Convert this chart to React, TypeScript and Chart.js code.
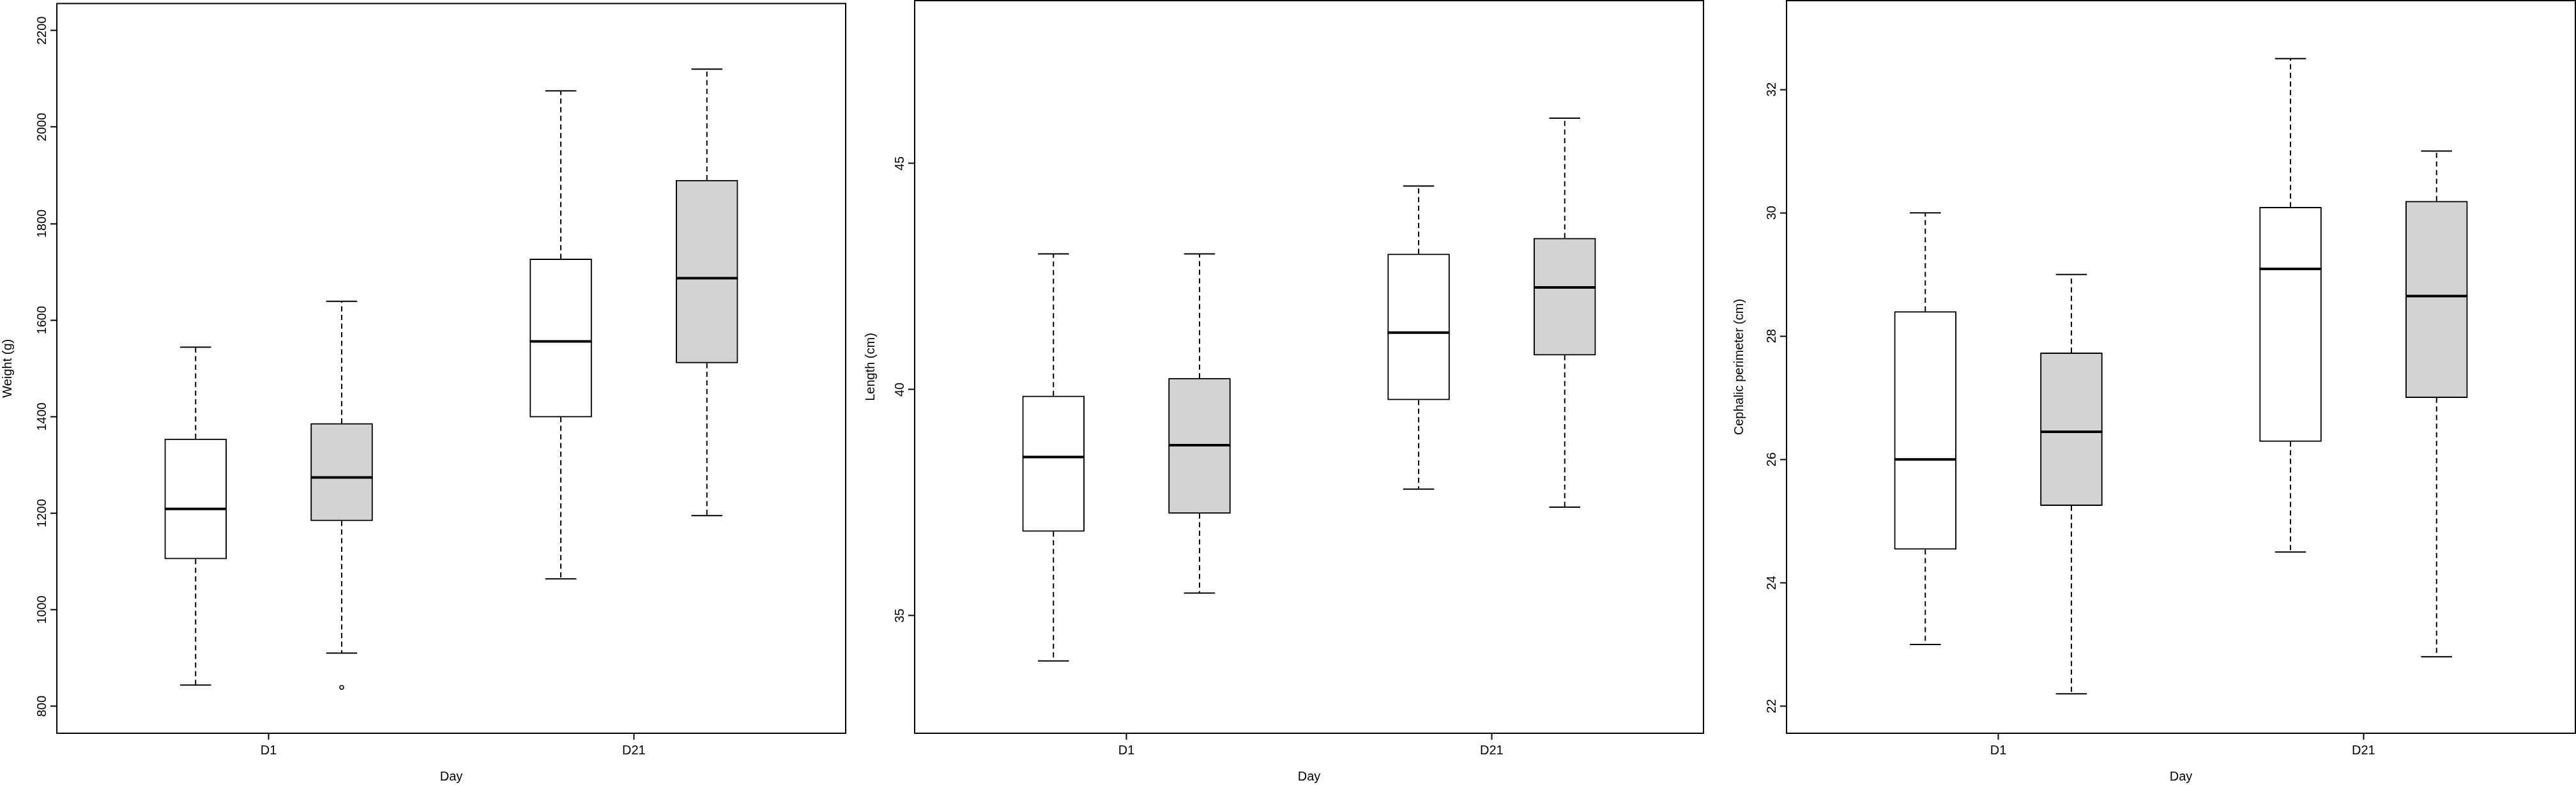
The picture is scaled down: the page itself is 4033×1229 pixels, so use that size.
import { useEffect, useRef } from 'react'
import { Chart, registerables } from 'chart.js'

Chart.register(...registerables)

Chart.defaults.font.family = '"Liberation Sans", Arial, sans-serif'
Chart.defaults.color = '#000'

const days = ['D1', 'D21']

// five-number summaries per day: [min, q1, median, q3, max]
const weightWhite = [
  [844, 1105, 1209, 1354, 1544],
  [1064, 1399, 1556, 1727, 2075],
]
const weightGrey = [
  [910, 1184, 1274, 1386, 1639],
  [1195, 1511, 1687, 1890, 2120],
]
const weightWhiteOutliers = [[], []]
const weightGreyOutliers = [[839], []]
const weightTicks = [800, 1000, 1200, 1400, 1600, 1800, 2000, 2200]
const weightLimits = [800, 2200]

const lengthWhite = [
  [34.0, 36.86, 38.51, 39.86, 43.0],
  [37.8, 39.77, 41.26, 43.0, 44.5],
]
const lengthGrey = [
  [35.5, 37.26, 38.77, 40.25, 43.0],
  [37.4, 40.76, 42.26, 43.35, 46.0],
]
const lengthTicks = [35, 40, 45]
const lengthLimits = [33, 48]

const cephWhite = [
  [23.0, 24.54, 26.0, 28.4, 30.0],
  [24.5, 26.29, 29.09, 30.09, 32.5],
]
const cephGrey = [
  [22.2, 25.25, 26.45, 27.73, 29.0],
  [22.8, 27.0, 28.65, 30.19, 31.0],
]
const cephTicks = [22, 24, 26, 28, 30, 32]
const cephLimits = [22, 33]

const xLimits = [0.5, 2.5]

const seriesFill = ['#ffffff', '#d3d3d3']
const seriesShift = [-0.2, 0.2]

// R pads the axis range by 4% on each side
const widen = (lim: number[]) => {
  const pad = (lim[1] - lim[0]) * 0.04
  return [lim[0] - pad, lim[1] + pad]
}

const makeBoxPlugin = (groups: number[][][]) => ({
  id: 'rbox',
  afterDatasetsDraw(chart: any) {
    const { ctx, scales } = chart
    const y = scales.y
    ctx.save()
    ctx.strokeStyle = '#000'
    groups.forEach((series, s) => {
      const meta = chart.getDatasetMeta(s)
      series.forEach((q, d) => {
        const bar = meta.data[d]
        const cx = bar.x
        const half = bar.width / 2
        const py = q.map((v) => y.getPixelForValue(v))
        ctx.lineWidth = 2
        ctx.setLineDash([8, 5.5])
        ctx.beginPath()
        ctx.moveTo(cx, py[3])
        ctx.lineTo(cx, py[4])
        ctx.moveTo(cx, py[1])
        ctx.lineTo(cx, py[0])
        ctx.stroke()
        ctx.setLineDash([])
        ctx.beginPath()
        ctx.moveTo(cx - half / 2, py[0])
        ctx.lineTo(cx + half / 2, py[0])
        ctx.moveTo(cx - half / 2, py[4])
        ctx.lineTo(cx + half / 2, py[4])
        ctx.stroke()
        ctx.lineWidth = 4
        ctx.beginPath()
        ctx.moveTo(cx - half, py[2])
        ctx.lineTo(cx + half, py[2])
        ctx.stroke()
      })
    })
    ctx.restore()
  },
  afterDraw(chart: any) {
    const { ctx, chartArea, scales } = chart
    const y = scales.y
    ctx.save()
    ctx.strokeStyle = '#000'
    ctx.lineWidth = 2
    ctx.strokeRect(chartArea.left, chartArea.top, chartArea.right - chartArea.left, chartArea.bottom - chartArea.top)
    // y tick labels, parallel to the axis as R does
    ctx.fillStyle = '#000'
    ctx.font = '20px "Liberation Sans", Arial, sans-serif'
    ctx.textAlign = 'center'
    ctx.textBaseline = 'alphabetic'
    y.ticks.forEach((t: any) => {
      const py = y.getPixelForValue(t.value)
      ctx.save()
      ctx.translate(chartArea.left - 17, py)
      ctx.rotate(-Math.PI / 2)
      ctx.fillText(String(t.value), 0, 0)
      ctx.restore()
    })
    ctx.restore()
  },
})

type PanelProps = {
  label: string
  white: number[][]
  grey: number[][]
  whiteOut: number[][]
  greyOut: number[][]
  ticks: number[]
  limits: number[]
  left: number
  titlePad: number
}

const BoxPanel = ({ label, white, grey, whiteOut, greyOut, ticks, limits, left, titlePad }: PanelProps) => {
  const canvasRef = useRef<HTMLCanvasElement | null>(null)
  const chartRef = useRef<Chart | null>(null)

  useEffect(() => {
    const ctx = canvasRef.current?.getContext('2d')
    if (!ctx) return
    const yr = widen(limits)
    const xr = widen(xLimits)
    const outliers = [whiteOut, greyOut].flatMap((out, s) =>
      out.flatMap((vals, d) => vals.map((v) => ({ x: d + 1 + seriesShift[s], y: v })))
    )

    chartRef.current = new Chart(ctx, {
      type: 'bar',
      data: {
        datasets: [
          ...[white, grey].map((series, s) => ({
            type: 'bar' as const,
            data: series.map((q, d) => ({ x: d + 1 + seriesShift[s], y: [q[1], q[3]] })),
            backgroundColor: seriesFill[s],
            borderColor: '#000',
            borderWidth: 2,
            borderSkipped: false,
            grouped: false,
            maxBarThickness: 97,
            barPercentage: 1,
            categoryPercentage: 1,
          })),
          {
            type: 'scatter' as const,
            data: outliers,
            pointStyle: 'circle',
            pointRadius: 3,
            borderWidth: 1.5,
            borderColor: '#000',
            backgroundColor: 'rgba(0,0,0,0)',
          },
        ],
      } as any,
      options: {
        animation: false,
        responsive: false,
        devicePixelRatio: 1,
        layout: { padding: { left: 0, right: 20, top: 1, bottom: 0 } },
        plugins: { legend: { display: false }, tooltip: { enabled: false } },
        scales: {
          x: {
            type: 'linear',
            min: xr[0],
            max: xr[1],
            offset: false,
            afterBuildTicks: (scale: any) => {
              scale.ticks = days.map((_, i) => ({ value: i + 1 }))
            },
            afterFit: (scale: any) => {
              scale.height = 81
            },
            ticks: {
              callback: (v: any) => days[Number(v) - 1] ?? '',
              font: { size: 20 },
              padding: 5,
              maxRotation: 0,
              autoSkip: false,
            },
            grid: {
              offset: false,
              drawOnChartArea: false,
              drawTicks: true,
              tickLength: 10,
              tickColor: '#000',
              tickWidth: 2,
            },
            border: { display: false },
            title: {
              display: true,
              text: 'Day',
              font: { size: 20 },
              padding: { top: 0, bottom: 1 },
            },
          },
          y: {
            type: 'linear',
            min: yr[0],
            max: yr[1],
            beginAtZero: false,
            afterBuildTicks: (scale: any) => {
              scale.ticks = ticks.map((v) => ({ value: v }))
            },
            afterFit: (scale: any) => {
              scale.width = 89
            },
            ticks: { display: false },
            grid: {
              drawOnChartArea: false,
              drawTicks: true,
              tickLength: 10,
              tickColor: '#000',
              tickWidth: 2,
            },
            border: { display: false },
            title: {
              display: true,
              text: label,
              font: { size: 20 },
              padding: { top: titlePad, bottom: 0 },
            },
          },
        },
      } as any,
      plugins: [makeBoxPlugin([white, grey])],
    })
    return () => chartRef.current?.destroy()
  }, [])

  return (
    <div style={{ position: 'absolute', left, top: 0, width: 1344, height: 1229 }}>
      <canvas ref={canvasRef} width={1344} height={1229} />
    </div>
  )
}

export default function App() {
  return (
    <div
      style={{
        position: 'absolute',
        left: 0,
        top: 0,
        width: 4033,
        height: 1229,
        overflow: 'hidden',
        background: '#fff',
      }}
    >
      <BoxPanel
        label="Weight (g)"
        white={weightWhite}
        grey={weightGrey}
        whiteOut={weightWhiteOutliers}
        greyOut={weightGreyOutliers}
        ticks={weightTicks}
        limits={weightLimits}
        left={0}
        titlePad={0}
      />
      <BoxPanel
        label="Length (cm)"
        white={lengthWhite}
        grey={lengthGrey}
        whiteOut={[[], []]}
        greyOut={[[], []]}
        ticks={lengthTicks}
        limits={lengthLimits}
        left={1343}
        titlePad={8}
      />
      <BoxPanel
        label="Cephalic perimeter (cm)"
        white={cephWhite}
        grey={cephGrey}
        whiteOut={[[], []]}
        greyOut={[[], []]}
        ticks={cephTicks}
        limits={cephLimits}
        left={2708}
        titlePad={3}
      />
    </div>
  )
}
